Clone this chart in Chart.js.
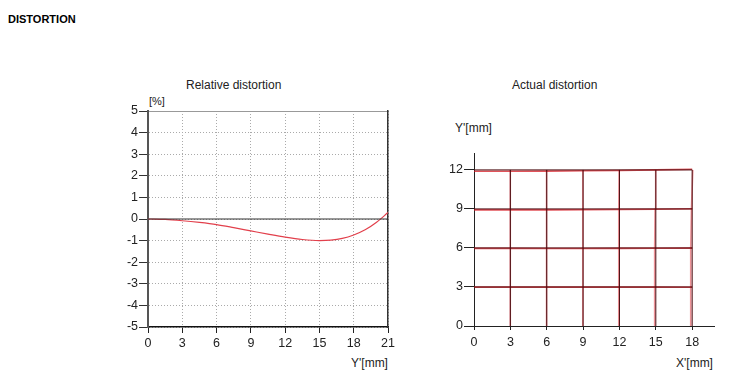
<!DOCTYPE html>
<html><head><meta charset="utf-8">
<script src="https://cdn.jsdelivr.net/npm/chart.js@4/dist/chart.umd.min.js"></script>
<style>
body{margin:0;background:#fff;width:740px;height:380px;position:relative;overflow:hidden;font-family:"Liberation Sans",Arial,sans-serif;color:#222}
.t{position:absolute;font-size:12px;white-space:nowrap;line-height:14px}
canvas{position:absolute}
</style></head><body>
<div class="t" style="left:8px;top:12px;font-weight:bold;font-size:11px;color:#000">DISTORTION</div>
<div class="t" style="left:186px;top:78px">Relative distortion</div>
<div class="t" style="left:149px;top:94px;font-size:11px">[%]</div>
<div class="t" style="left:351px;top:356px">Y'[mm]</div>
<div class="t" style="left:512px;top:78px">Actual distortion</div>
<div class="t" style="left:455px;top:121px">Y'[mm]</div>
<div class="t" style="left:676px;top:356px">X'[mm]</div>
<div id="w1" style="position:absolute;left:100px;top:95px;width:300px;height:285px"><canvas id="c1"></canvas></div>
<div id="w2" style="position:absolute;left:420px;top:95px;width:320px;height:285px"><canvas id="c2"></canvas></div>
<script>
// Relative distortion (left)
const relX = [0, 1.5, 3, 4.5, 6, 7.5, 9, 10.5, 12, 13.5, 15, 16, 17, 18, 19, 20, 21];
const relY = [0, -0.02, -0.08, -0.16, -0.26, -0.4, -0.55, -0.7, -0.84, -0.95, -1.0, -0.98, -0.9, -0.74, -0.5, -0.15, 0.3];
const relXTicks = [0, 3, 6, 9, 12, 15, 18, 21];
const relYTicks = [-5, -4, -3, -2, -1, 0, 1, 2, 3, 4, 5];

// Actual distortion (right)
const gridXs = [3, 6, 9, 12, 15, 18];
const gridYs = [3, 6, 9, 12];
const gridXMax = 18, gridYMax = 12;
const actXTicks = [0, 3, 6, 9, 12, 15, 18];
const actYTicks = [0, 3, 6, 9, 12];
// distorted horizontal lines: y value at x = 0,3,...,18
const actHorizX = [0, 3, 6, 9, 12, 15, 18];
const actHoriz = [
  [2.99, 2.99, 2.99, 2.99, 2.99, 2.99, 2.98],
  [5.97, 5.97, 5.96, 5.96, 5.97, 5.98, 5.99],
  [8.93, 8.93, 8.93, 8.94, 8.96, 8.98, 9.01],
  [11.90, 11.90, 11.91, 11.93, 11.96, 12.00, 12.05]
];
// distorted vertical lines: x value at y = 0,3,...,12
const actVertY = [0, 3, 6, 9, 12];
const actVert = [
  [3.00, 3.00, 2.99, 2.99, 2.99],
  [5.99, 5.99, 5.98, 5.98, 5.99],
  [8.98, 8.98, 8.97, 8.97, 8.98],
  [11.94, 11.94, 11.94, 11.95, 11.97],
  [14.90, 14.90, 14.91, 14.94, 14.99],
  [17.87, 17.87, 17.89, 17.94, 18.05]
];

const FONT = {family: '"Liberation Sans", Arial, sans-serif', size: 12.5};
const TICKCOL = '#222';

function fixTicks(arr){ return s => { s.ticks = arr.map(v => ({value: v})); }; }

new Chart(document.getElementById('c1'), {
  type: 'line',
  data: {
    datasets: [
      {data: [{x: relXTicks[0], y: 0}, {x: relXTicks[relXTicks.length-1], y: 0}], borderColor: '#333', borderWidth: 1.2, pointRadius: 0},
      {data: relX.map((x, i) => ({x, y: relY[i]})), borderColor: '#e2404c', borderWidth: 1.2, pointRadius: 0, tension: 0.4, cubicInterpolationMode: 'monotone'}
    ]
  },
  options: {
    responsive: true, maintainAspectRatio: false, animation: false,
    layout: {padding: {left: 0, right: 12, top: 16, bottom: 0}},
    plugins: {legend: {display: false}, tooltip: {enabled: false}},
    scales: {
      x: {type: 'linear', min: 0, max: 21, afterBuildTicks: fixTicks(relXTicks),
        afterFit: s => { s.height = 53; },
        ticks: {color: TICKCOL, font: FONT, padding: 3, maxRotation: 0},
        grid: {color: '#aaa', lineWidth: 1, tickColor: '#222', tickLength: 6, tickBorderDash: []},
        border: {color: '#111', width: 1.5, dash: [1, 2]}},
      x2: {type: 'linear', position: 'top', min: 0, max: 21, afterFit: s => { s.height = 0; },
        ticks: {display: false}, grid: {display: false}, border: {color: '#999', width: 1}},
      y: {type: 'linear', min: -5, max: 5, afterBuildTicks: fixTicks(relYTicks),
        afterFit: s => { s.width = 48; },
        ticks: {color: TICKCOL, font: FONT, padding: 1},
        grid: {color: '#aaa', lineWidth: 1, tickColor: '#333', tickLength: 9, tickBorderDash: []},
        border: {color: '#555', width: 2, dash: [1, 2]}},
      y2: {type: 'linear', position: 'right', min: -5, max: 5, afterFit: s => { s.width = 0; },
        ticks: {display: false}, grid: {display: false}, border: {color: '#333', width: 1.5}}
    }
  }
});

const ds2 = [];
// ideal grid
gridYs.forEach(y => ds2.push({data: [{x: 0, y}, {x: gridXMax, y}], borderColor: '#4a0c10', borderWidth: 1, pointRadius: 0}));
gridXs.forEach(x => ds2.push({data: [{x, y: 0}, {x, y: gridYMax}], borderColor: '#4a0c10', borderWidth: 1, pointRadius: 0}));
// distorted grid
actHoriz.forEach(row => ds2.push({data: actHorizX.map((x, i) => ({x, y: row[i]})), borderColor: 'rgba(215,25,35,0.75)', borderWidth: 1.6, pointRadius: 0}));
actVert.forEach(col => ds2.push({data: actVertY.map((y, i) => ({x: col[i], y})), borderColor: 'rgba(222,40,50,0.5)', borderWidth: 1.6, pointRadius: 0}));

new Chart(document.getElementById('c2'), {
  type: 'line',
  data: {datasets: ds2},
  options: {
    responsive: true, maintainAspectRatio: false, animation: false,
    layout: {padding: {left: 0, right: 26, top: 58, bottom: 0}},
    plugins: {legend: {display: false}, tooltip: {enabled: false}},
    scales: {
      x: {type: 'linear', min: 0, max: 19.8, afterBuildTicks: fixTicks(actXTicks),
        afterFit: s => { s.height = 54; },
        ticks: {color: TICKCOL, font: FONT, padding: 5, maxRotation: 0},
        grid: {drawOnChartArea: false, tickColor: '#222', tickLength: 4},
        border: {color: '#222', width: 1}},
      y: {type: 'linear', min: 0, max: 13.3, afterBuildTicks: fixTicks(actYTicks),
        afterFit: s => { s.width = 54; },
        ticks: {color: TICKCOL, font: FONT, padding: 1},
        grid: {drawOnChartArea: false, tickColor: '#222', tickLength: 10},
        border: {color: '#222', width: 1}}
    }
  }
});
</script>
</body></html>
